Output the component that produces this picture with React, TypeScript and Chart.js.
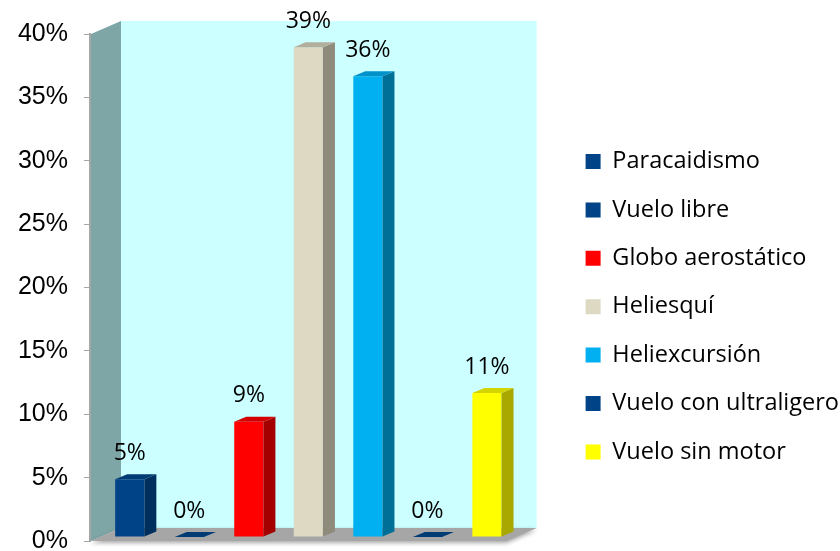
import React, { useEffect, useRef } from 'react';
import { Chart, registerables } from 'chart.js';

Chart.register(...registerables);

const categories = [
  'Paracaidismo',
  'Vuelo libre',
  'Globo aerostático',
  'Heliesquí',
  'Heliexcursión',
  'Vuelo con ultraligero',
  'Vuelo sin motor',
];
const values = [4.55, 0, 9.09, 38.64, 36.36, 0, 11.36];
const valueLabels = ['5%', '0%', '9%', '39%', '36%', '0%', '11%'];
const yTickLabels = ['0%', '5%', '10%', '15%', '20%', '25%', '30%', '35%', '40%'];

const frontColors = ['#004386', '#004386', '#FF0000', '#DDD9C3', '#00B0F0', '#004386', '#FFFF00'];
const sideColors = ['#002F5E', '#002F5E', '#A50000', '#8E8B7D', '#006F98', '#002F5E', '#A8A800'];
const topColors = ['#003B74', '#003B74', '#D40000', '#B3AF9D', '#0092C8', '#003B74', '#D4D400'];

// 3D geometry
const WALL_DX = 30;
const WALL_DY = -13;
const BAR_OFF_DX = 10;
const BAR_OFF_DY = -4;
const BAR_DEPTH_DX = 12;
const BAR_DEPTH_DY = -5;

const poly = (ctx: CanvasRenderingContext2D, pts: number[][], fill: string) => {
  ctx.beginPath();
  ctx.moveTo(pts[0][0], pts[0][1]);
  for (let i = 1; i < pts.length; i++) ctx.lineTo(pts[i][0], pts[i][1]);
  ctx.closePath();
  ctx.fillStyle = fill;
  ctx.fill();
};

const threeDPlugin = {
  id: 'threeD',
  beforeDatasetsDraw(chart: any) {
    const { ctx, chartArea } = chart;
    const { left, right, top, bottom } = chartArea;
    const L = left + 1;
    ctx.save();
    poly(ctx, [[L + WALL_DX, top + WALL_DY], [right + WALL_DX, top + WALL_DY], [right + WALL_DX, bottom + WALL_DY], [L + WALL_DX, bottom + WALL_DY]], '#CCFFFF');
    poly(ctx, [[L, top], [L + WALL_DX, top + WALL_DY], [L + WALL_DX, bottom + WALL_DY], [L, bottom]], '#7FA6A6');
    ctx.save();
    ctx.shadowColor = 'rgba(0,0,0,0.35)';
    ctx.shadowBlur = 4;
    ctx.shadowOffsetY = 2;
    poly(ctx, [[L, bottom], [right, bottom], [right + WALL_DX, bottom + WALL_DY], [L + WALL_DX, bottom + WALL_DY]], '#A6A6A6');
    ctx.restore();
    ctx.restore();
    ctx.save();
    ctx.translate(BAR_OFF_DX, BAR_OFF_DY);
  },
  afterDatasetsDraw(chart: any) {
    const { ctx } = chart;
    const meta = chart.getDatasetMeta(0);
    meta.data.forEach((bar: any, i: number) => {
      const { x, y, base, width } = bar.getProps(['x', 'y', 'base', 'width'], true);
      const l = x - width / 2;
      const r = x + width / 2;
      poly(ctx, [[r, y], [r + BAR_DEPTH_DX, y + BAR_DEPTH_DY], [r + BAR_DEPTH_DX, base + BAR_DEPTH_DY], [r, base]], sideColors[i]);
      poly(ctx, [[l, y], [l + BAR_DEPTH_DX, y + BAR_DEPTH_DY], [r + BAR_DEPTH_DX, y + BAR_DEPTH_DY], [r, y]], topColors[i]);
    });
    ctx.restore();
    ctx.save();
    ctx.font = '23px "Open Sans"';
    ctx.fillStyle = '#000';
    ctx.textAlign = 'center';
    ctx.textBaseline = 'middle';
    meta.data.forEach((bar: any, i: number) => {
      const { x, y } = bar.getProps(['x', 'y'], true);
      ctx.fillText(valueLabels[i], x + BAR_OFF_DX, y + BAR_OFF_DY - 26);
    });
    ctx.restore();
  },
};

export default function App() {
  const ref = useRef<HTMLCanvasElement | null>(null);
  useEffect(() => {
    let chart: Chart | null = null;
    let cancelled = false;
    const make = () => {
      if (cancelled || !ref.current) return;
      chart = new Chart(ref.current, {
        type: 'bar',
        data: {
          labels: categories,
          datasets: [
            {
              data: values,
              backgroundColor: frontColors,
              borderWidth: 0,
              categoryPercentage: 1,
              barPercentage: 0.49,
            },
          ],
        },
        options: {
          animation: false,
          responsive: false,
          devicePixelRatio: 1,
          events: [],
          layout: { padding: { left: 0, top: 34, bottom: 10, right: -9 } },
          scales: {
            x: { display: false },
            y: {
              min: 0,
              max: 40,
              ticks: {
                stepSize: 5,
                color: '#000',
                padding: 16,
                font: { family: 'Liberation Sans', size: 25, lineHeight: 0.8 },
                callback: (v: any) => yTickLabels[Math.round(Number(v) / 5)],
              },
              grid: { display: true, drawOnChartArea: false, drawTicks: true, tickLength: 6, color: '#A6A6A6' },
              border: { display: true, color: '#A6A6A6', width: 2 },
              afterFit: (s: any) => {
                s.width = 90;
                s.paddingTop = 0;
                s.paddingBottom = 0;
              },
            },
            y2: {
              position: 'right',
              min: 0,
              max: 40,
              display: true,
              grid: { display: false },
              border: { display: false },
              ticks: { display: false },
              afterFit: (s: any) => {
                s.width = 54;
                s.paddingTop = 0;
                s.paddingBottom = 0;
              },
            },
          },
          plugins: {
            tooltip: { enabled: false },
            legend: {
              position: 'right',
              align: 'start',
              maxWidth: 400,
              title: { display: true, text: '', padding: { top: 76.45, bottom: 0 }, font: { size: 12 } },
              labels: {
                boxWidth: 15,
                boxHeight: 15,
                padding: 24.9,
                color: '#000',
                font: { family: 'Open Sans', size: 23.5 },
                generateLabels: () =>
                  categories.map((c, i) => ({
                    text: c,
                    fillStyle: frontColors[i],
                    strokeStyle: frontColors[i],
                    lineWidth: 0,
                    hidden: false,
                    index: i,
                    datasetIndex: 0,
                    fontColor: '#000',
                  })),
              },
            },
          },
        },
        plugins: [threeDPlugin],
      } as any);
    };
    const fonts = (document as any).fonts;
    if (fonts && fonts.load) {
      Promise.all([fonts.load('23px "Open Sans"'), fonts.load('25px "Liberation Sans"')])
        .catch(() => null)
        .then(make);
    } else {
      make();
    }
    return () => {
      cancelled = true;
      if (chart) chart.destroy();
    };
  }, []);
  return (
    <div style={{ position: 'fixed', left: 0, top: 0, width: 840, height: 551, background: '#fff' }}>
      <canvas ref={ref} width={840} height={551} style={{ display: 'block' }} />
    </div>
  );
}
